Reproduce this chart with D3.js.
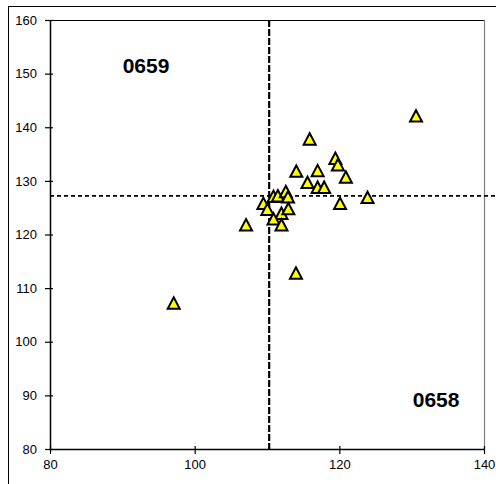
<!DOCTYPE html>
<html>
<head>
<meta charset="utf-8">
<script src="https://cdn.jsdelivr.net/npm/d3@7"></script>
<style>
  html, body { margin: 0; padding: 0; background: #fff; }
  svg { display: block; }
</style>
</head>
<body>
<svg id="chart" width="496" height="484"></svg>
<script>
// ---- data ----
const xValues = [97.1, 107.1, 109.5, 110.05, 110.9, 111.5, 112.6, 112.9, 112.0, 112.95, 110.9, 112.0, 114.0, 114.05, 115.6, 115.9, 117.0, 117.0, 117.9, 119.45, 119.8, 120.9, 120.1, 123.9, 130.6];
const yValues = [107.2, 121.8, 125.8, 124.7, 127.1, 127.2, 128.0, 127.0, 123.95, 124.8, 122.9, 121.8, 112.8, 131.8, 129.7, 137.8, 131.9, 128.8, 128.8, 134.2, 133.0, 130.7, 125.8, 126.9, 142.1];
const xTicks = [80, 100, 120, 140];
const yTicks = [80, 90, 100, 110, 120, 130, 140, 150, 160];
const refX = 110.3;   // vertical dashed reference
const refY = 127.2;   // horizontal dashed reference
const quadrantLabels = [
  { text: "0659", x: 90.05, y: 150.2 },
  { text: "0658", x: 130.15, y: 87.9 }
];

// ---- layout ----
const svg = d3.select("#chart");
const mLeft = 50, mRight = 484, mTop = 20, mBottom = 449;
const x = d3.scaleLinear().domain([80, 140]).range([mLeft, mRight]);
const y = d3.scaleLinear().domain([80, 160]).range([mBottom, mTop]);
const font = "Arial, 'Liberation Sans', sans-serif";

// outer chart border
svg.append("rect").attr("x", 8.5).attr("y", 6.5).attr("width", 600).attr("height", 600)
  .attr("fill", "none").attr("stroke", "#000").attr("stroke-width", 1);

// plot area border
svg.append("line").attr("x1", mLeft).attr("x2", mRight).attr("y1", mTop + 0.5).attr("y2", mTop + 0.5)
  .attr("stroke", "#000").attr("stroke-width", 1.2);
svg.append("line").attr("x1", mRight + 0.5).attr("x2", mRight + 0.5).attr("y1", mTop).attr("y2", mBottom)
  .attr("stroke", "#808080").attr("stroke-width", 1.2);

// reference lines
svg.append("line")
  .attr("x1", x(80)).attr("x2", 496)
  .attr("y1", y(refY)).attr("y2", y(refY))
  .attr("stroke", "#000").attr("stroke-width", 1.6).attr("stroke-dasharray", "4,3");
svg.append("line")
  .attr("x1", x(refX)).attr("x2", x(refX))
  .attr("y1", y(160)).attr("y2", y(80))
  .attr("stroke", "#000").attr("stroke-width", 2.2).attr("stroke-dasharray", "7,2");

// axes
const xAxis = d3.axisBottom(x).tickValues(xTicks).tickSize(0).tickPadding(11).tickFormat(d3.format("d"));
const gx = svg.append("g").attr("transform", `translate(0,${mBottom})`).call(xAxis);
gx.select(".domain").attr("stroke", "#000").attr("stroke-width", 1.5);
gx.selectAll(".tick").append("line").attr("y1", -3).attr("y2", 5).attr("stroke", "#000").attr("stroke-width", 1.2);
gx.selectAll("text").attr("font-family", font).attr("font-size", 13).attr("fill", "#000");

const yAxis = d3.axisLeft(y).tickValues(yTicks).tickSize(0).tickPadding(13).tickFormat(d3.format("d"));
const gy = svg.append("g").attr("transform", `translate(${mLeft},0)`).call(yAxis);
gy.select(".domain").attr("stroke", "#000").attr("stroke-width", 1.5);
gy.selectAll(".tick").append("line").attr("x1", -5).attr("x2", 3).attr("stroke", "#000").attr("stroke-width", 1.2);
gy.selectAll("text").attr("font-family", font).attr("font-size", 13).attr("fill", "#000");

// points
const tri = "M0,-5.8L6,5.6L-6,5.6Z";
const pts = xValues.map((v, i) => ({ x: v, y: yValues[i] }));
svg.append("g").selectAll("path").data(pts).join("path")
  .attr("d", tri)
  .attr("transform", d => `translate(${x(d.x)},${y(d.y)})`)
  .attr("fill", "#ffff00").attr("stroke", "#000").attr("stroke-width", 2)
  .attr("stroke-linejoin", "miter");

// quadrant labels
svg.append("g").selectAll("text").data(quadrantLabels).join("text")
  .attr("x", d => x(d.x)).attr("y", d => y(d.y))
  .attr("font-family", font).attr("font-size", 21).attr("font-weight", "bold")
  .attr("fill", "#000").text(d => d.text);
</script>
</body>
</html>
